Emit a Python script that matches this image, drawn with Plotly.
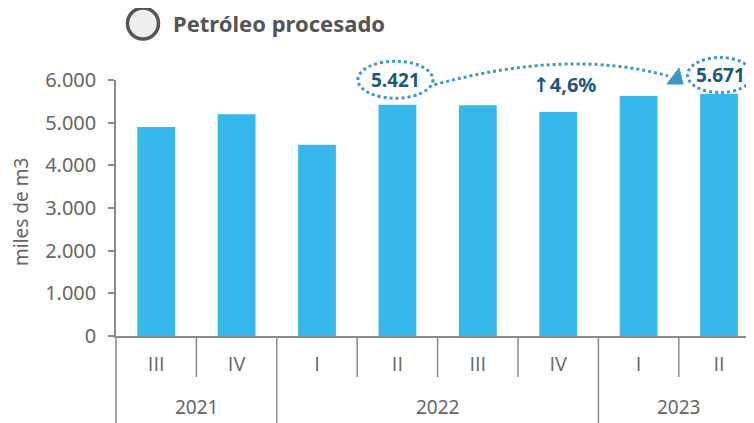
import plotly.graph_objects as go

years = ["2021", "2021", "2022", "2022", "2022", "2022", "2023", "2023"]
quarters = ["III", "IV", "I", "II", "III", "IV", "I", "II"]
values = [4900, 5200, 4480, 5421, 5410, 5250, 5625, 5671]
yticks = [0, 1000, 2000, 3000, 4000, 5000, 6000]

# page body has an 8px margin, so the figure is drawn 8px smaller
W, H = 746, 415
ML, MR, MT, MB = 108, 0, 72, 87
XR = [-0.5, 7.435]
YR = [0, 6000]
PW = W - ML - MR
PH = H - MT - MB
idx = list(range(len(values)))

def px_x(i):
    return (i - XR[0]) / (XR[1] - XR[0])

def py_val(v, dpx=0):
    return (v - YR[0]) / (YR[1] - YR[0]) + dpx / PH

def dx(p):
    return p / PW

def dy(p):
    return p / PH

BAR = "#36b9ea"
DOT = "#3a9bc9"
TXT = "#1e5a78"
GRAY = "#666666"
LINE = "#8a8a8a"
FONT = "Noto Sans"

fig = go.Figure()
fig.add_trace(go.Bar(
    x=idx, y=values, marker=dict(color=BAR, line=dict(width=0)),
    width=0.47, hoverinfo="skip",
))

shapes = []
annotations = []

# category dividers and year groups
for k in range(len(idx)):
    b = idx[k] - 0.5
    is_year = k == 0 or years[k] != years[k - 1]
    depth = 90 if is_year else 41
    shapes.append(dict(type="line", xref="paper", yref="paper",
                       x0=px_x(b), x1=px_x(b), y0=0, y1=-dy(depth),
                       line=dict(color=LINE, width=1.5)))
shapes.append(dict(type="line", xref="paper", yref="paper",
                   x0=px_x(idx[-1] + 0.5), x1=px_x(idx[-1] + 0.5), y0=0, y1=-dy(41),
                   line=dict(color=LINE, width=1.5)))
for yr in dict.fromkeys(years):
    members = [i for i, y in zip(idx, years) if y == yr]
    center = (members[0] + members[-1]) / 2
    annotations.append(dict(xref="paper", yref="paper", x=px_x(center), y=-dy(71),
                            text=yr, showarrow=False, xanchor="center", yanchor="middle",
                            font=dict(size=19, color=GRAY, family=FONT)))

# highlight ellipses
i1, i2 = 3, 7
for ix, shift, rx_px, ry_px, up in [(i1, -2, 37.5, 18.5, 25), (i2, 1, 32.5, 17.5, 19)]:
    cx = px_x(ix) + dx(shift)
    cy = py_val(values[ix], up)
    shapes.append(dict(type="circle", xref="paper", yref="paper",
                       x0=cx - dx(rx_px), x1=cx + dx(rx_px),
                       y0=cy - dy(ry_px), y1=cy + dy(ry_px),
                       line=dict(color=DOT, width=3, dash="dot")))
    annotations.append(dict(xref="paper", yref="paper", x=cx, y=cy,
                            xanchor="center", yanchor="middle",
                            text="<b>" + f"{values[ix]:,}".replace(",", ".") + "</b>",
                            showarrow=False, font=dict(size=19, color=TXT, family=FONT)))

# arc between them
c1x = px_x(i1) + dx(37)
c1y = py_val(values[i1], 20)
ex = px_x(i2) - dx(51)
ey = py_val(values[i2], 18)
ctrlx = (c1x + ex) / 2 + dx(18)
ctrly = py_val(values[i2], 46)
shapes.append(dict(type="path", xref="paper", yref="paper",
                   path=f"M {c1x},{c1y} Q {ctrlx},{ctrly} {ex},{ey}",
                   line=dict(color=DOT, width=3, dash="dot")))
# arrow head
shapes.append(dict(type="path", xref="paper", yref="paper",
                   path=(f"M {ex - dx(1)},{ey - dy(8)} L {ex + dx(15)},{ey - dy(8)} "
                         f"L {ex + dx(11)},{ey + dy(8)} Z"),
                   fillcolor=DOT, line=dict(color=DOT, width=1)))

pct = (values[i2] / values[i1] - 1) * 100
annotations.append(dict(xref="paper", yref="paper", x=(c1x + ex) / 2 + dx(13),
                        y=py_val(values[i2], 10), xanchor="center", yanchor="middle",
                        text=("<b><span style='font-family:DejaVu Sans'>↑</span>"
                              + f"{pct:.1f}".replace(".", ",") + "%</b>"),
                        showarrow=False, font=dict(size=20, color=TXT, family=FONT)))

# title with circle icon
shapes.append(dict(type="circle", xref="paper", yref="paper",
                   x0=dx(143 - 116 - 15.5), x1=dx(143 - 116 + 15.5),
                   y0=1 + dy(80 - 23.5 - 15.5), y1=1 + dy(80 - 23.5 + 15.5),
                   fillcolor="#eeeeee", line=dict(color="#555555", width=3.5)))
annotations.append(dict(xref="paper", yref="paper", x=dx(171 - 116), y=1 + dy(80 - 23),
                        xanchor="left", yanchor="middle", showarrow=False,
                        text="<b>Petróleo procesado</b>",
                        font=dict(size=22, color="#555555", family=FONT)))

# y-axis title
annotations.append(dict(xref="paper", yref="paper", x=-dx(95), y=dy(124),
                        xanchor="center", yanchor="middle", textangle=-90, showarrow=False,
                        text="miles de m3", font=dict(size=19, color=GRAY, family=FONT)))

fig.update_layout(
    width=W, height=H,
    margin=dict(l=ML, r=MR, t=MT, b=MB, autoexpand=False),
    paper_bgcolor="white", plot_bgcolor="white",
    separators=",.",
    showlegend=False,
    font=dict(family=FONT, color=GRAY),
    shapes=shapes, annotations=annotations,
    xaxis=dict(range=XR, tickvals=idx, ticktext=quarters, showline=True, linecolor=LINE,
               linewidth=1.5, ticks="", ticklabelstandoff=9, automargin=False,
               tickfont=dict(size=20, color=GRAY, family="Open Sans"), showgrid=False,
               zeroline=False, fixedrange=True),
    yaxis=dict(range=YR, tickvals=yticks, tickformat=",d", showline=True, linecolor=LINE,
               linewidth=1.5, ticks="outside", ticklen=6, tickcolor=LINE, tickwidth=1.5,
               ticklabelstandoff=8,
               showgrid=False, zeroline=False, automargin=False,
               tickfont=dict(size=20, color=GRAY, family=FONT), fixedrange=True),
)

fig.write_html("out.html")
